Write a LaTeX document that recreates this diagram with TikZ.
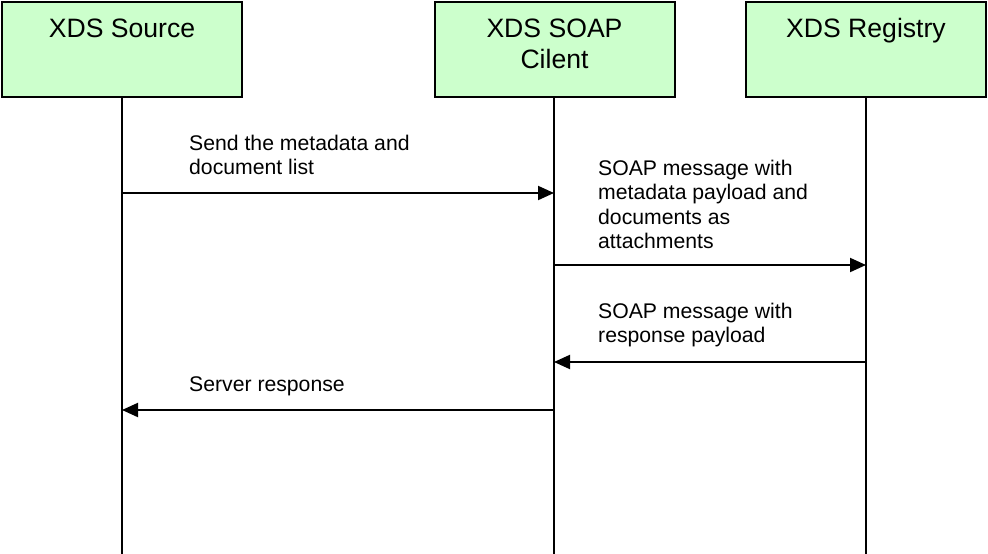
\documentclass[tikz,border=0pt]{standalone}
\usepackage{fontspec}
\setmainfont{Liberation Sans}
\usetikzlibrary{arrows.meta}
\definecolor{boxgreen}{HTML}{CCFFCC}
\begin{document}
\begin{tikzpicture}[x=1pt,y=-1pt,
  actor/.style={draw=black, line width=2pt, fill=boxgreen, minimum width=240pt, minimum height=95pt, inner sep=0pt},
  title/.style={font=\fontsize{26.6}{31}\selectfont, align=center, anchor=base, inner sep=0pt},
  lifeline/.style={line width=1.5pt, black},
  msg/.style={line width=2pt, -{Triangle[length=16pt,width=14pt]}},
  lbl/.style={font=\fontsize{21.2}{24.6}\selectfont, align=left, anchor=base west, inner sep=0pt}]
\useasboundingbox (0,0) rectangle (988,554);
\node[actor] (src) at (122,49.5) {};
\node[actor] (cli) at (554.5,49.5) {};
\node[actor] (reg) at (866,49.5) {};
\node[title] (srct) at (122,37) {XDS Source};
\node[title] (clit) at (554.5,68) {XDS SOAP\\Cilent};
\node[title] (regt) at (866,37) {XDS Registry};
\coordinate (srcend) at (122,554);
\coordinate (cliend) at (554,554);
\coordinate (regend) at (866,554);
\coordinate (clitop) at (554,97);
\draw[lifeline] (src.south) -- (srcend);
\draw[lifeline] (clitop) -- (cliend);
\draw[lifeline] (reg.south) -- (regend);
\coordinate (a1s) at (122,193);  \coordinate (a1e) at (554,193);
\coordinate (a2s) at (554,265); \coordinate (a2e) at (866,265);
\coordinate (a3s) at (866,362);  \coordinate (a3e) at (554,362);
\coordinate (a4s) at (554,410); \coordinate (a4e) at (122,410);
\draw[msg] (a1s) -- (a1e);
\draw[msg] (a2s) -- (a2e);
\draw[msg] (a3s) -- (a3e);
\draw[msg] (a4s) -- (a4e);
\node[lbl] (l1) at (189,174.6) {Send the metadata and\\document list};
\node[lbl] (l2) at (598,248.8) {SOAP message with\\metadata payload and\\documents as\\attachments};
\node[lbl] (l3) at (598,342.6) {SOAP message with\\response payload};
\node[lbl] (l4) at (189,391) {Server response};
\end{tikzpicture}
\end{document}
